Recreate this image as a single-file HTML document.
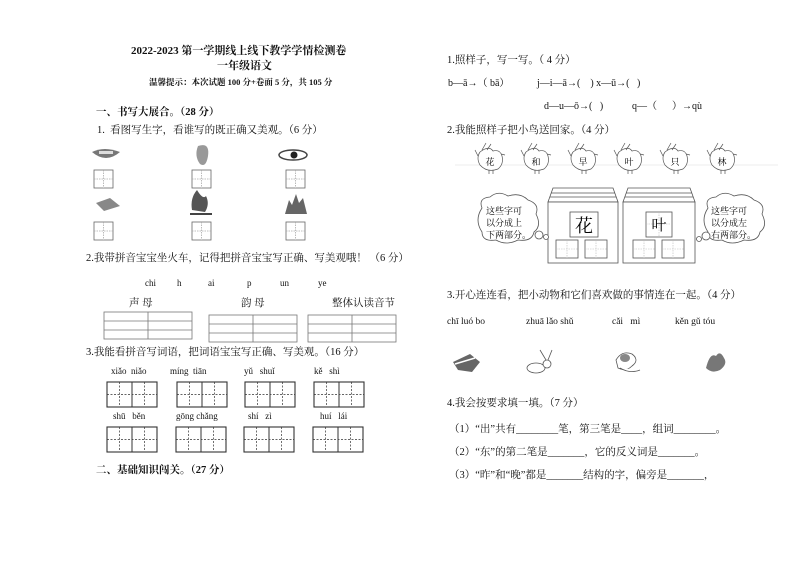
<!DOCTYPE html>
<html><head><meta charset="utf-8"><style>
body{margin:0;background:#fff;}
#p{position:relative;width:794px;height:561px;overflow:hidden;font-family:"Liberation Serif","Noto Serif CJK SC","Noto Sans CJK SC",serif;color:#111;}
.t{position:absolute;white-space:nowrap;font-size:10.5px;line-height:1;}
.b{font-weight:bold;}
svg{position:absolute;left:0;top:0;}
</style></head><body><div id="p">
<div class="t b" style="left:131px;top:46px;font-size:11px">2022-2023 第一学期线上线下教学学情检测卷</div>
<div class="t b" style="left:217px;top:61px;font-size:11px">一年级语文</div>
<div class="t b" style="left:149px;top:78px;font-size:8.5px">温馨提示：本次试题 100 分+卷面 5 分，共 105 分</div>
<div class="t b" style="left:96px;top:108px">一、书写大展合。（28 分）</div>
<div class="t" style="left:97px;top:126px">1.&nbsp; 看图写生字，看谁写的既正确又美观。（6 分）</div>
<div class="t" style="left:86px;top:254px">2.我带拼音宝宝坐火车，记得把拼音宝宝写正确、写美观哦！ （6 分）</div>
<div class="t" style="left:145px;top:279px;font-size:9px">chi</div>
<div class="t" style="left:177px;top:279px;font-size:9px">h</div>
<div class="t" style="left:208px;top:279px;font-size:9px">ai</div>
<div class="t" style="left:247px;top:279px;font-size:9px">p</div>
<div class="t" style="left:280px;top:279px;font-size:9px">un</div>
<div class="t" style="left:318px;top:279px;font-size:9px">ye</div>
<div class="t" style="left:129px;top:299px">声 母</div>
<div class="t" style="left:241px;top:299px">韵 母</div>
<div class="t" style="left:332px;top:299px">整体认读音节</div>
<div class="t" style="left:86px;top:348px">3.我能看拼音写词语，把词语宝宝写正确、写美观。（16 分）</div>
<div class="t" style="left:111px;top:367px;font-size:9px">xiǎo&nbsp; niǎo</div>
<div class="t" style="left:170px;top:367px;font-size:9px">míng&nbsp; tiān</div>
<div class="t" style="left:244px;top:367px;font-size:9px">yǔ&nbsp;&nbsp; shuǐ</div>
<div class="t" style="left:314px;top:367px;font-size:9px">kě&nbsp;&nbsp; shì</div>
<div class="t" style="left:113px;top:412px;font-size:9px">shū&nbsp;&nbsp; běn</div>
<div class="t" style="left:176px;top:412px;font-size:9px">gōng chǎng</div>
<div class="t" style="left:248px;top:412px;font-size:9px">shí&nbsp;&nbsp; zì</div>
<div class="t" style="left:320px;top:412px;font-size:9px">huí&nbsp;&nbsp; lái</div>
<div class="t b" style="left:96px;top:466px">二、基础知识闯关。（27 分）</div>

<div class="t" style="left:447px;top:56px">1.照样子，写一写。（ 4 分）</div>
<div class="t" style="left:448px;top:79px;font-size:10px">b—ā→（ bā）</div>
<div class="t" style="left:537px;top:79px;font-size:10px">j—i—ā→(&nbsp;&nbsp;&nbsp; ) x—ū→(&nbsp;&nbsp; )</div>
<div class="t" style="left:544px;top:102px;font-size:10px">d—u—ō→(&nbsp;&nbsp; )</div>
<div class="t" style="left:632px;top:102px;font-size:10px">q—（&nbsp;&nbsp;&nbsp;&nbsp;&nbsp; ）→qù</div>
<div class="t" style="left:447px;top:126px">2.我能照样子把小鸟送回家。（4 分）</div>
<div class="t" style="left:447px;top:291px">3.开心连连看，把小动物和它们喜欢做的事情连在一起。（4 分）</div>
<div class="t" style="left:447px;top:318px;font-size:9.5px">chī luó bo</div>
<div class="t" style="left:526px;top:318px;font-size:9.5px">zhuā lǎo shǔ</div>
<div class="t" style="left:612px;top:318px;font-size:9.5px">cǎi&nbsp;&nbsp; mì</div>
<div class="t" style="left:675px;top:318px;font-size:9.5px">kěn gǔ tóu</div>
<div class="t" style="left:447px;top:399px">4.我会按要求填一填。（7 分）</div>
<div class="t" style="left:449px;top:425px">（1）“出”共有________笔，第三笔是____，组词________。</div>
<div class="t" style="left:449px;top:448px">（2）“东”的第二笔是_______，它的反义词是_______。</div>
<div class="t" style="left:449px;top:471px">（3）“昨”和“晚”都是_______结构的字，偏旁是_______，</div>

<svg width="794" height="561" viewBox="0 0 794 561" font-family="Liberation Serif,Noto Serif CJK SC,serif">
<defs>
<g id="tz" stroke="#666" fill="none" stroke-width="0.8"><rect x="0" y="0" width="19" height="18"/><path d="M9.5 0V18M0 9H19" stroke="#aaa" stroke-dasharray="1.5 1"/></g>
<g id="pr" stroke="#333" fill="none"><rect x="0" y="0" width="50" height="25" stroke-width="1.1"/><path d="M25 0V25" stroke-width="1"/><path d="M12.5 0V25M37.5 0V25M0 12.5H50" stroke="#333" stroke-width="0.7" stroke-dasharray="2 1.5"/></g>
<g id="bd" fill="#fff" stroke="#555" stroke-width="0.7"><path d="M-11 -8 Q-15 -2 -11 5 Q-4 13 7 9 Q13 4 11 -4 Q9 -11 2 -9 Q-2 -15 -11 -8Z"/><path d="M-9 -10 L-5 -17 M-4 -10 L0 -16 M-13 -4 L-16 -10 M10 -6 L14 -5"/><path d="M-2 10V14M2 10V14"/></g>
</defs>
<use href="#tz" x="94" y="170"/><use href="#tz" x="192" y="170"/><use href="#tz" x="286" y="170"/>
<use href="#tz" x="94" y="222"/><use href="#tz" x="192" y="222"/><use href="#tz" x="286" y="222"/>
<path d="M92 152 Q104 146 120 152 Q106 164 92 152Z" fill="#777"/><rect x="99" y="151" width="14" height="3" fill="#ddd"/>
<path d="M198 146 Q210 142 208 156 Q206 168 200 164 Q194 156 198 146Z" fill="#999"/>
<ellipse cx="293" cy="155" rx="14" ry="5" fill="#fff" stroke="#444" stroke-width="1.5"/><circle cx="294" cy="155" r="3.5" fill="#222"/>
<path d="M96 203 L110 198 L120 206 L104 211Z" fill="#888"/>
<path d="M192 210 Q190 198 197 190 Q203 200 206 196 Q210 204 205 212Z" fill="#555"/><path d="M190 214 H212" stroke="#444" stroke-width="2"/>
<path d="M285 214 L289 200 L292 205 L296 194 L299 203 L303 198 L307 214Z" fill="#666"/>
<g stroke="#777" fill="none" stroke-width="0.8">
<rect x="104" y="312" width="88" height="27"/><path d="M104 321H192M104 330H192M148 312V339"/>
<rect x="209" y="315" width="88" height="27"/><path d="M209 324H297M209 333H297M253 315V342"/>
<rect x="308" y="315" width="88" height="27"/><path d="M308 324H396M308 333H396M352 315V342"/>
</g>
<use href="#pr" x="107" y="382"/><use href="#pr" x="177" y="382"/><use href="#pr" x="245" y="382"/><use href="#pr" x="314" y="382"/>
<use href="#pr" x="107" y="427"/><use href="#pr" x="176" y="427"/><use href="#pr" x="244" y="427"/><use href="#pr" x="313" y="427"/>
<path d="M455 165H778" stroke="#eee"/>
<use href="#bd" x="491" y="160"/><use href="#bd" x="537" y="160"/><use href="#bd" x="584" y="160"/><use href="#bd" x="630" y="160"/><use href="#bd" x="676" y="160"/><use href="#bd" x="723" y="160"/>
<g font-size="9" text-anchor="middle"><text x="490" y="165">花</text><text x="536" y="165">和</text><text x="583" y="165">早</text><text x="629" y="165">叶</text><text x="675" y="165">只</text><text x="722" y="165">林</text></g>
<g stroke="#555" fill="#fff" stroke-width="0.8">
<path d="M548 202 L553 188 L613 188 L618 202Z"/><path d="M551 193H615M550 197H616"/>
<rect x="548" y="202" width="70" height="61"/>
<rect x="570" y="212" width="28" height="25"/>
<rect x="556" y="240" width="22" height="18"/><rect x="585" y="240" width="22" height="18"/>
<path d="M623 202 L628 188 L690 188 L695 202Z"/><path d="M626 193H692M625 197H693"/>
<rect x="623" y="202" width="72" height="61"/>
<rect x="646" y="212" width="26" height="25"/>
<rect x="633" y="240" width="22" height="18"/><rect x="662" y="240" width="22" height="18"/>
</g>
<g stroke="#bbb" stroke-dasharray="1.5 1" stroke-width="0.6"><path d="M567 240V258M556 249H578M596 240V258M585 249H607M644 240V258M633 249H655M673 240V258M662 249H684M659 212V237M646 224H672"/></g>
<text x="584" y="232" font-size="18" text-anchor="middle" font-family="Noto Serif CJK SC,serif">花</text>
<text x="659" y="230" font-size="15" text-anchor="middle" font-family="Noto Serif CJK SC,serif">叶</text>
<g fill="#fff" stroke="#555" stroke-width="0.8">
<path d="M482 208 Q478 198 490 197 Q498 190 508 196 Q520 192 528 200 Q540 204 536 214 Q542 226 534 232 Q532 242 518 240 Q506 246 496 240 Q482 242 482 232 Q474 220 482 208Z"/>
<circle cx="539" cy="235" r="4"/><circle cx="546" cy="237" r="2.5"/>
<path d="M708 208 Q704 198 716 197 Q724 190 734 196 Q746 192 754 200 Q766 204 762 214 Q768 226 760 232 Q758 242 744 240 Q732 246 722 240 Q708 242 708 232 Q700 220 708 208Z"/>
<circle cx="706" cy="236" r="4"/><circle cx="699" cy="239" r="2.5"/>
</g>
<g font-size="9"><text x="486" y="214">这些字可</text><text x="486" y="226">以分成上</text><text x="486" y="238">下两部分。</text>
<text x="711" y="214">这些字可</text><text x="711" y="226">以分成左</text><text x="711" y="238">右两部分。</text></g>
<path d="M453 362 L470 354 L480 362 L472 372 L458 370Z" fill="#666"/><path d="M455 364 L475 358" stroke="#fff" stroke-width="1.5"/>
<g fill="#fff" stroke="#555" stroke-width="0.8"><ellipse cx="536" cy="368" rx="9" ry="5"/><circle cx="547" cy="364" r="4"/><path d="M546 360 L540 350 M548 360 L552 350"/>
<path d="M616 360 Q622 350 632 354 Q640 360 632 366 Q626 372 618 368Z"/><path d="M620 368 Q630 374 640 370"/></g>
<ellipse cx="625" cy="358" rx="5" ry="4" fill="#888"/>
<path d="M706 368 Q710 352 716 356 Q720 350 724 358 Q728 364 720 370 Q712 374 706 368Z" fill="#777"/>
</svg>
</div></body></html>
